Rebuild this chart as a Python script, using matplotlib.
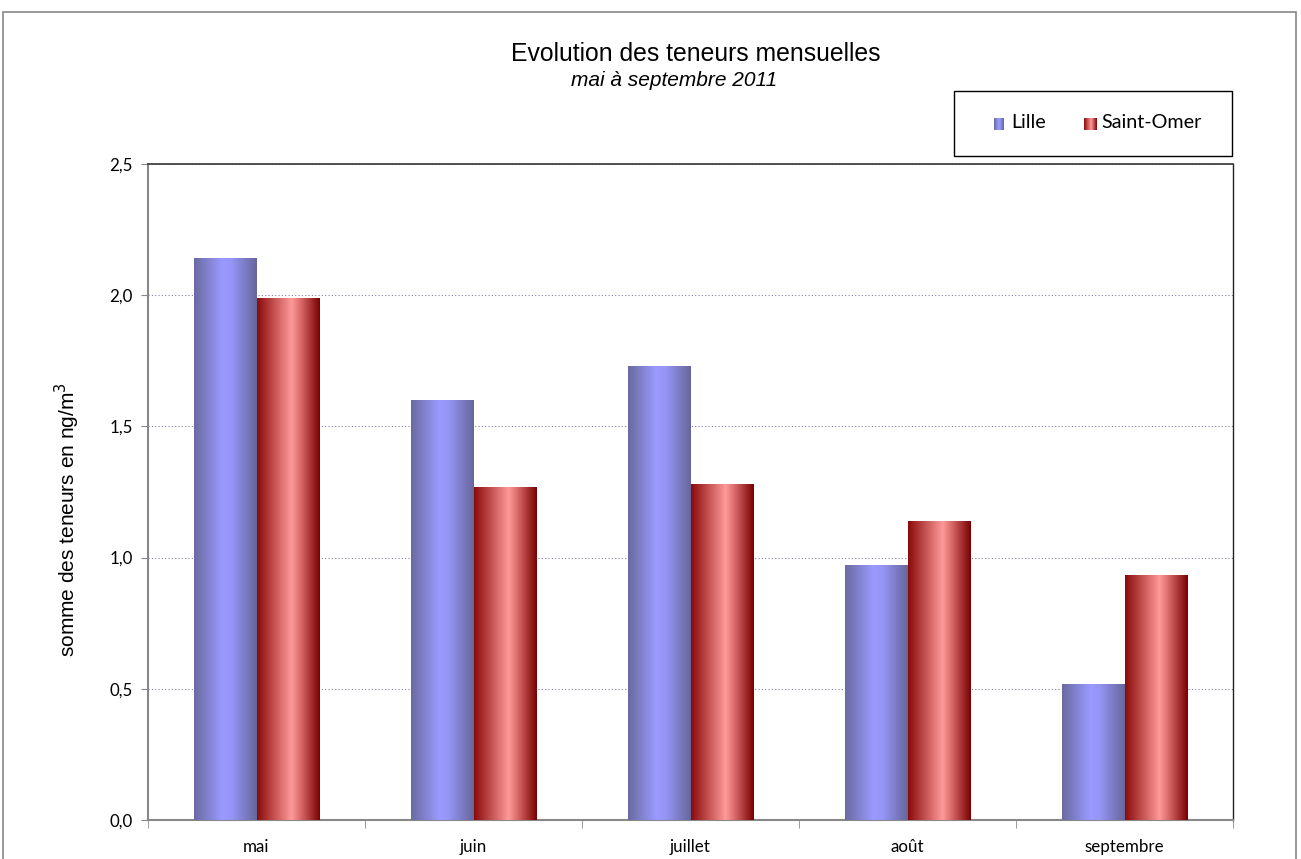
import numpy as np
import matplotlib
matplotlib.use("Agg")
import matplotlib.pyplot as plt
from matplotlib.colors import LinearSegmentedColormap
from matplotlib.patches import Rectangle

mois = ["mai", "juin", "juillet", "août", "septembre"]
lille = [2.14, 1.60, 1.73, 0.97, 0.52]
saint_omer = [1.99, 1.27, 1.28, 1.14, 0.935]
series = ["Lille", "Saint-Omer"]

cmap_lille = LinearSegmentedColormap.from_list(
    "lille", [(0, "#6a6aa0"), (0.45, "#9a9aff"), (0.6, "#9595f5"), (1, "#66669c")])
cmap_omer = LinearSegmentedColormap.from_list(
    "omer", [(0, "#8a0a0a"), (0.55, "#ff9999"), (0.7, "#d86868"), (1, "#780000")])

fig = plt.figure(figsize=(13.01, 8.59), dpi=100)
ax = fig.add_axes([148 / 1301, 1 - 820 / 859, (1233 - 148) / 1301, (820 - 164) / 859])

# outer chart frame
fig.patches.append(Rectangle((3 / 1301, -0.1), 1293 / 1301, 1.1 - 12 / 859,
                             transform=fig.transFigure, fill=False,
                             edgecolor="#888888", linewidth=1.2))

x = np.arange(len(mois))
w = 0.288
grad = np.linspace(0, 1, 256).reshape(1, -1)


def gradient_bars(xpos, vals, cmap):
    bars = ax.bar(xpos, vals, width=w, color="none", edgecolor="none", zorder=3)
    for b in bars:
        x0, y0 = b.get_x(), b.get_y()
        im = ax.imshow(grad, cmap=cmap, aspect="auto", zorder=3,
                       extent=(x0, x0 + b.get_width(), y0, y0 + b.get_height()))
        im.set_clip_path(b)
    return bars


gradient_bars(x - w / 2, lille, cmap_lille)
gradient_bars(x + w / 2, saint_omer, cmap_omer)

ax.set_xlim(-0.5, len(mois) - 0.5)
ax.set_ylim(0, 2.5)
ax.set_yticks(np.arange(0, 2.51, 0.5))
ax.set_yticklabels([f"{v:.1f}".replace(".", ",") for v in np.arange(0, 2.51, 0.5)],
                   fontsize=12.2, family="Lato")
ax.set_xticks(x)
ax.set_xticklabels(mois, fontsize=12.2, family="Lato")
ax.set_xticks(np.arange(-0.5, len(mois)), minor=True)
ax.tick_params(axis="x", which="major", length=0, pad=14)
ax.tick_params(axis="x", which="minor", length=6, color="#888888")
ax.tick_params(axis="y", length=5, color="#888888", pad=6)

ax.grid(axis="y", linestyle=(0, (1, 2)), color="#8080a8", linewidth=0.8, zorder=0)
ax.spines["left"].set_color("#888888")
ax.spines["bottom"].set_color("#888888")
ax.spines["left"].set_linewidth(1.5)
ax.spines["bottom"].set_linewidth(1.5)
ax.spines["top"].set_color("#444444")
ax.spines["top"].set_linewidth(1.3)
ax.spines["right"].set_color("#222222")
ax.spines["right"].set_linewidth(1.0)

fig.text(67 / 1301, 1 - 520 / 859, "somme des teneurs en ng/m$^3$", rotation=90,
         ha="center", va="center", fontsize=15, family="Liberation Sans")

fig.text(696 / 1301, 1 - 54 / 859, "Evolution des teneurs mensuelles", ha="center",
         va="center", fontsize=17.8, family="Liberation Sans")
fig.text(674.5 / 1301, 1 - 80 / 859, "mai à septembre 2011", ha="center", va="center",
         fontsize=15, style="italic", family="Liberation Sans")

# legend box with gradient swatches
fig.patches.append(Rectangle((954 / 1301, 1 - 156 / 859), 278 / 1301, 65 / 859,
                             transform=fig.transFigure, fill=False,
                             edgecolor="black", linewidth=1.0))
lg_items = [(994, 10, 1011, cmap_lille, series[0]), (1084, 13, 1101, cmap_omer, series[1])]
for px, sw, tx, cmap, name in lg_items:
    lax = fig.add_axes([px / 1301, 1 - 130 / 859, sw / 1301, 12 / 859])
    lax.imshow(grad, cmap=cmap, aspect="auto")
    lax.axis("off")
    fig.text(tx / 1301, 1 - 123 / 859, name, va="center", ha="left",
             fontsize=14.2, family="Lato")

fig.savefig("out.png", dpi=100)
